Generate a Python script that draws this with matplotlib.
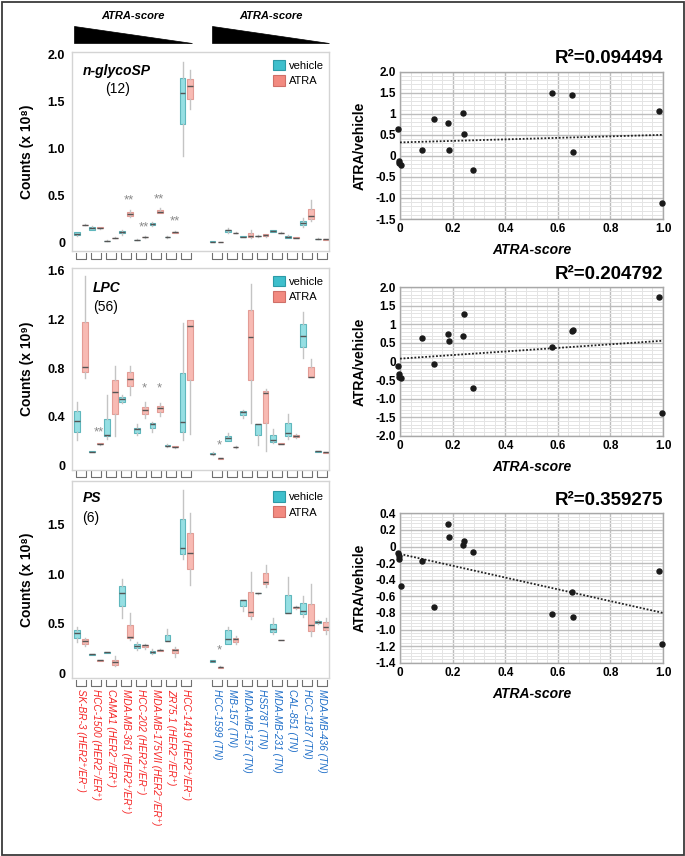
import matplotlib
matplotlib.use('Agg')
import matplotlib.pyplot as plt
import matplotlib.transforms as mtransforms
from matplotlib.patches import Polygon, Patch, Rectangle
import numpy as np

plt.rcParams['font.family'] = ['Liberation Sans', 'DejaVu Sans']

# ---------------- data ----------------
cell_lines = ['SK-BR-3 (HER2⁺/ER⁻)', 'HCC-1500 (HER2⁻/ER⁺)', 'CAMA1 (HER2⁻/ER⁺)',
              'MDA-MB-361 (HER2⁺/ER⁺)', 'HCC-202 (HER2⁺/ER⁻)', 'MDA-MB-175VII (HER2⁻/ER⁺)',
              'ZR75.1 (HER2⁻/ER⁺)', 'HCC-1419 (HER2⁺/ER⁻)',
              'HCC-1599 (TN)', 'MB-157 (TN)', 'MDA-MB-157 (TN)', 'HS578T (TN)',
              'MDA-MB-231 (TN)', 'CAL-851 (TN)', 'HCC-1187 (TN)', 'MDA-MB-436 (TN)']
cell_group = ['her2'] * 8 + ['tn'] * 8
slot_pos = [0, 1, 2, 3, 4, 5, 6, 7, 9, 10, 11, 12, 13, 14, 15, 16]

# box stats per cell line: (whisker low, q1, median, q3, whisker high)
glyco_vehicle = [(0.075, 0.08, 0.09, 0.11, 0.115), (0.13, 0.14, 0.155, 0.17, 0.18),
                 (0.015, 0.018, 0.02, 0.022, 0.025), (0.08, 0.10, 0.11, 0.12, 0.135),
                 (0.025, 0.028, 0.03, 0.032, 0.035), (0.18, 0.185, 0.195, 0.205, 0.215),
                 (0.055, 0.058, 0.06, 0.065, 0.07), (0.92, 1.26, 1.59, 1.75, 1.92),
                 (0.008, 0.01, 0.012, 0.014, 0.016), (0.10, 0.11, 0.135, 0.14, 0.16),
                 (0.06, 0.063, 0.065, 0.068, 0.07), (0.065, 0.068, 0.072, 0.075, 0.08),
                 (0.11, 0.115, 0.125, 0.135, 0.14), (0.05, 0.055, 0.065, 0.075, 0.08),
                 (0.17, 0.19, 0.21, 0.235, 0.26), (0.038, 0.04, 0.042, 0.044, 0.046)]
glyco_atra = [(0.185, 0.188, 0.19, 0.192, 0.195), (0.15, 0.155, 0.16, 0.165, 0.17),
              (0.045, 0.048, 0.05, 0.053, 0.056), (0.27, 0.28, 0.30, 0.33, 0.35),
              (0.055, 0.058, 0.06, 0.063, 0.066), (0.31, 0.32, 0.33, 0.35, 0.37),
              (0.10, 0.105, 0.11, 0.115, 0.12), (1.42, 1.53, 1.66, 1.74, 1.83),
              (0.003, 0.004, 0.005, 0.006, 0.007), (0.10, 0.102, 0.105, 0.108, 0.11),
              (0.055, 0.06, 0.07, 0.105, 0.14), (0.065, 0.07, 0.08, 0.09, 0.095),
              (0.10, 0.102, 0.105, 0.108, 0.11), (0.05, 0.052, 0.055, 0.058, 0.06),
              (0.23, 0.25, 0.28, 0.36, 0.45), (0.032, 0.034, 0.035, 0.037, 0.04)]

lpc_vehicle = [(0.21, 0.28, 0.37, 0.45, 0.52), (0.11, 0.112, 0.115, 0.118, 0.12),
               (0.22, 0.24, 0.25, 0.38, 0.58), (0.51, 0.525, 0.545, 0.565, 0.58),
               (0.25, 0.265, 0.30, 0.31, 0.34), (0.28, 0.31, 0.345, 0.35, 0.36),
               (0.155, 0.16, 0.165, 0.17, 0.18), (0.21, 0.28, 0.355, 0.76, 1.17),
               (0.09, 0.095, 0.10, 0.105, 0.11), (0.20, 0.205, 0.225, 0.24, 0.265),
               (0.39, 0.415, 0.44, 0.45, 0.46), (0.17, 0.25, 0.34, 0.34, 0.345),
               (0.19, 0.195, 0.21, 0.25, 0.30), (0.22, 0.245, 0.27, 0.35, 0.42),
               (0.88, 0.975, 1.065, 1.16, 1.255), (0.115, 0.116, 0.117, 0.119, 0.12)]
lpc_atra = [(0.72, 0.765, 0.805, 1.18, 1.55), (0.17, 0.175, 0.18, 0.185, 0.19),
            (0.245, 0.42, 0.60, 0.70, 0.82), (0.58, 0.65, 0.71, 0.765, 0.82),
            (0.39, 0.42, 0.455, 0.48, 0.52), (0.41, 0.44, 0.47, 0.49, 0.51),
            (0.145, 0.15, 0.155, 0.16, 0.165), (0.26, 0.70, 1.145, 1.19, 1.19),
            (0.055, 0.058, 0.06, 0.063, 0.065), (0.148, 0.15, 0.153, 0.156, 0.16),
            (0.35, 0.70, 1.05, 1.275, 1.49), (0.12, 0.35, 0.595, 0.61, 0.63),
            (0.175, 0.177, 0.18, 0.183, 0.185), (0.23, 0.235, 0.243, 0.255, 0.26),
            (0.73, 0.73, 0.73, 0.805, 0.875), (0.105, 0.107, 0.11, 0.112, 0.115)]

ps_vehicle = [(0.32, 0.36, 0.41, 0.44, 0.47), (0.185, 0.187, 0.19, 0.192, 0.195),
              (0.20, 0.205, 0.21, 0.215, 0.22), (0.56, 0.68, 0.815, 0.885, 0.95),
              (0.24, 0.26, 0.275, 0.30, 0.32), (0.195, 0.20, 0.21, 0.225, 0.25),
              (0.33, 0.33, 0.33, 0.39, 0.45), (1.16, 1.21, 1.27, 1.56, 1.85),
              (0.11, 0.115, 0.125, 0.13, 0.135), (0.30, 0.30, 0.35, 0.44, 0.47),
              (0.63, 0.68, 0.74, 0.74, 0.74), (0.805, 0.807, 0.81, 0.812, 0.815),
              (0.40, 0.42, 0.445, 0.50, 0.56), (0.605, 0.605, 0.605, 0.79, 0.97),
              (0.57, 0.60, 0.63, 0.71, 0.785), (0.50, 0.505, 0.52, 0.53, 0.535)]
ps_atra = [(0.28, 0.30, 0.33, 0.35, 0.36), (0.125, 0.127, 0.13, 0.133, 0.135),
           (0.07, 0.085, 0.11, 0.13, 0.17), (0.34, 0.355, 0.37, 0.49, 0.605),
           (0.25, 0.265, 0.283, 0.29, 0.30), (0.225, 0.23, 0.235, 0.24, 0.245),
           (0.16, 0.20, 0.235, 0.25, 0.27), (0.89, 1.055, 1.22, 1.42, 1.62),
           (0.05, 0.055, 0.06, 0.065, 0.07), (0.30, 0.32, 0.35, 0.36, 0.38),
           (0.545, 0.58, 0.615, 0.82, 1.02), (0.875, 0.90, 0.92, 1.01, 1.10),
           (0.333, 0.335, 0.337, 0.339, 0.341), (0.655, 0.66, 0.667, 0.675, 0.68),
           (0.38, 0.43, 0.485, 0.70, 0.90), (0.40, 0.44, 0.47, 0.52, 0.56)]

# significance marks: (slot index, y value, text)
glyco_sig = [(3, 0.39, '**'), (4, 0.10, '**'), (5, 0.40, '**'), (6, 0.16, '**')]
lpc_sig = [(1, 0.22, '**'), (4, 0.58, '*'), (5, 0.58, '*'), (8, 0.12, '*')]
ps_sig = [(8, 0.17, '*')]

panel_names = ['n-glycoSP', 'LPC', 'PS']
panel_counts = ['(12)', '(56)', '(6)']
panel_ylabels = ['Counts (x 10⁸)', 'Counts (x 10⁹)', 'Counts (x 10⁸)']
panel_yticks = [[0, 0.5, 1.0, 1.5, 2.0], [0, 0.4, 0.8, 1.2, 1.6], [0, 0.5, 1.0, 1.5]]
panel_yticklabels = [['0', '0.5', '1.0', '1.5', '2.0'], ['0', '0.4', '0.8', '1.2', '1.6'],
                     ['0', '0.5', '1.0', '1.5']]

# scatter: ATRA-score vs ATRA/vehicle
atra_score = [-0.006, -0.003, -0.002, 0.002, 0.085, 0.128, 0.182, 0.186,
              0.238, 0.242, 0.278, 0.577, 0.655, 0.657, 0.985, 0.997]
glyco_ratio = [0.63, -0.12, -0.17, -0.22, 0.15, 0.87, 0.77, 0.13,
               1.02, 0.51, -0.34, 1.50, 1.44, 0.10, 1.06, -1.12]
lpc_ratio = [-0.12, -0.34, -0.41, -0.45, 0.62, -0.08, 0.74, 0.55,
             0.70, 1.27, -0.71, 0.40, 0.83, 0.85, 1.73, -1.39]
ps_ratio = [-0.074, -0.11, -0.15, -0.48, -0.175, -0.73, 0.275, 0.11,
            0.02, 0.065, -0.067, -0.81, -0.55, -0.845, -0.30, -1.17]
fit_intercept = [0.32, 0.077, -0.09]
fit_slope = [0.18, 0.483, -0.71]
r2_labels = ['R²=0.094494', 'R²=0.204792', 'R²=0.359275']
scatter_yticks = [[-1.5, -1.0, -0.5, 0, 0.5, 1, 1.5, 2.0],
                  [-2.0, -1.5, -1.0, -0.5, 0, 0.5, 1, 1.5, 2.0],
                  [-1.4, -1.2, -1.0, -0.8, -0.6, -0.4, -0.2, 0, 0.2, 0.4]]
scatter_yticklabels = [['-1.5', '-1.0', '-0.5', '0', '0.5', '1', '1.5', '2.0'],
                       ['-2.0', '-1.5', '-1.0', '-0.5', '0', '0.5', '1', '1.5', '2.0'],
                       ['-1.4', '-1.2', '-1.0', '-0.8', '-0.6', '-0.4', '-0.2', '0', '0.2', '0.4']]
scatter_ylims = [(-1.5, 2.0), (-2.0, 2.0), (-1.4, 0.4)]
scatter_yminor = [0.1, 0.1, 0.04]
score_ticks = [0, 0.2, 0.4, 0.6, 0.8, 1.0]
score_ticklabels = ['0', '0.2', '0.4', '0.6', '0.8', '1.0']

# ---------------- figure ----------------
W, H = 685, 856
fig = plt.figure(figsize=(W / 100, H / 100), dpi=100)


def rect(l, t, r, b):
    return [l / W, 1 - b / H, (r - l) / W, (b - t) / H]


VEH_FACE, VEH_EDGE = '#95dfe3', '#5fb7bd'
ATR_FACE, ATR_EDGE = '#f8bab3', '#e39c95'
LEG_VEH, LEG_ATR = '#3ebfcc', '#f28a80'
RED, BLUE = '#f52525', '#1e6ec8'

left_rects = [rect(72, 52, 329, 251), rect(72, 268, 329, 469.5), rect(72, 481, 329, 678)]
left_ylims = [(-0.088, 2.024), (-0.031, 1.619), (-0.048, 1.945)]
vehicle_sets = [glyco_vehicle, lpc_vehicle, ps_vehicle]
atra_sets = [glyco_atra, lpc_atra, ps_atra]
sig_sets = [glyco_sig, lpc_sig, ps_sig]
title_pos = [((0.043, 0.905), (0.177, 0.812)), ((0.08, 0.90), (0.131, 0.804)),
             ((0.042, 0.912), (0.074, 0.81))]
legend_y = [0.962, 0.962, 0.95]


def stats_from(rows):
    return [dict(whislo=r[0], q1=r[1], med=r[2], q3=r[3], whishi=r[4], fliers=[]) for r in rows]


off, bw = 0.26, 0.38
for i in range(3):
    ax = fig.add_axes(left_rects[i])
    pos = np.array(slot_pos, dtype=float)
    for data, face, edge, sgn in [(vehicle_sets[i], VEH_FACE, VEH_EDGE, -1),
                                  (atra_sets[i], ATR_FACE, ATR_EDGE, 1)]:
        ax.bxp(stats_from(data), positions=pos + sgn * off, widths=bw,
               patch_artist=True, showcaps=False, showfliers=False, manage_ticks=False,
               boxprops=dict(facecolor=face, edgecolor=edge, linewidth=0.8),
               medianprops=dict(color='#555555', linewidth=1.0),
               whiskerprops=dict(color='#c4c4c4', linewidth=1.0))
    for (k, yv, txt) in sig_sets[i]:
        ax.text(slot_pos[k] + 0.2, yv, txt, ha='center', va='bottom', fontsize=9.5,
                color='#8a8a8a')
    ax.set_xlim(-0.6, 16.47)
    ax.set_ylim(*left_ylims[i])
    ax.set_yticks(panel_yticks[i])
    ax.set_yticklabels(panel_yticklabels[i], fontsize=9, fontweight='bold')
    ax.set_xticks([])
    ax.tick_params(axis='y', length=0, pad=5)
    for s in ax.spines.values():
        s.set_color('#d4d4d4')
        s.set_linewidth(1.0)
    ax.text(-0.175, 0.5, panel_ylabels[i], transform=ax.transAxes, rotation=90,
            ha='center', va='center', fontsize=10, fontweight='bold')
    (tx, ty), (cx, cy) = title_pos[i]
    ax.text(tx, ty, panel_names[i], transform=ax.transAxes, ha='left', va='center',
            fontsize=10, fontweight='bold', fontstyle='italic')
    ax.text(cx, cy, panel_counts[i], transform=ax.transAxes, ha='center', va='center',
            fontsize=10)
    handles = [Patch(facecolor=LEG_VEH, edgecolor='#2c9aa6', linewidth=0.8),
               Patch(facecolor=LEG_ATR, edgecolor='#cf6f68', linewidth=0.8)]
    ax.legend(handles, ['vehicle', 'ATRA'], loc='upper left',
              bbox_to_anchor=(0.781, legend_y[i]), frameon=False, borderpad=0,
              borderaxespad=0, handlelength=1.1, handleheight=1.1, handletextpad=0.4,
              labelspacing=0.4, fontsize=8)
    # small square markers below each slot
    trans = mtransforms.blended_transform_factory(ax.transData, ax.transAxes)
    hpx = (left_rects[i][3]) * H
    y1 = -1.5 / hpx
    y2 = -7.5 / hpx
    for p in slot_pos:
        ax.plot([p - 0.33, p - 0.33, p + 0.33, p + 0.33], [y1, y2, y2, y1],
                transform=trans, clip_on=False, color='#707070', lw=0.8)
    if i == 2:
        ylab = -11.0 / hpx
        for p, name, g in zip(slot_pos, cell_lines, cell_group):
            ax.text(p, ylab, name, transform=trans, rotation=-90, ha='center', va='top',
                    fontsize=7.2, fontstyle='italic',
                    color=RED if g == 'her2' else BLUE)

# ATRA-score header with wedges
for x0, x1 in [(74, 192), (212, 329)]:
    fig.add_artist(Polygon([(x0 / W, 1 - 26 / H), (x0 / W, 1 - 42.5 / H), (x1 / W, 1 - 42.5 / H)],
                           closed=True, transform=fig.transFigure, facecolor='black',
                           edgecolor='black', lw=0.5))
    fig.text((x0 + x1) / 2 / W, 1 - 16 / H, 'ATRA-score', ha='center', va='center',
             fontsize=8, fontweight='bold', fontstyle='italic')

# scatter panels
right_rects = [rect(400, 71.7, 663, 219), rect(400, 287.3, 663, 435.7),
               rect(400, 513.3, 663, 662.7)]
ratio_sets = [glyco_ratio, lpc_ratio, ps_ratio]
for i in range(3):
    ax = fig.add_axes(right_rects[i])
    ax.set_xlim(0, 1)
    ax.set_ylim(*scatter_ylims[i])
    ax.set_xticks(score_ticks)
    ax.set_xticklabels(score_ticklabels, fontsize=8.5, fontweight='bold')
    ax.set_yticks(scatter_yticks[i])
    ax.set_yticklabels(scatter_yticklabels[i], fontsize=8.5, fontweight='bold')
    ax.set_xticks(np.arange(0, 1.0001, 0.04), minor=True)
    lo, hi = scatter_ylims[i]
    ax.set_yticks(np.arange(lo, hi + 1e-9, scatter_yminor[i]), minor=True)
    ax.grid(which='minor', color='#e4e4e4', linewidth=0.7)
    ax.grid(which='major', color='#bdbdbd', linewidth=1.0)
    ax.set_axisbelow(True)
    ax.tick_params(which='both', length=0, pad=3)
    for s in ax.spines.values():
        s.set_color('#a8a8a8')
        s.set_linewidth(1.0)
    ax.plot(atra_score, ratio_sets[i], 'o', color='#1a1a1a', markersize=3.6,
            clip_on=False, zorder=5)
    xf = np.array([0.0, 1.0])
    ax.plot(xf, fit_intercept[i] + fit_slope[i] * xf, color='#222222', lw=1.3,
            linestyle=(0, (1, 1)), zorder=4)
    hpx = right_rects[i][3] * H
    ax.text(1.0, 1.0 + 8.5 / hpx, r2_labels[i], transform=ax.transAxes, ha='right',
            va='baseline', fontsize=13.5, fontweight='bold')
    ax.text(-40 / 263, 0.5, 'ATRA/vehicle', transform=ax.transAxes, rotation=90,
            ha='center', va='center', fontsize=10, fontweight='bold')
    ax.text(0.5, -31 / hpx, 'ATRA-score', transform=ax.transAxes, ha='center',
            va='center', fontsize=10, fontweight='bold', fontstyle='italic')

# outer frame
fig.add_artist(Rectangle((1.5 / W, 1.5 / H), (W - 3) / W, (H - 3) / H,
                         transform=fig.transFigure, fill=False, edgecolor='#3a3a3a', lw=1.3))

fig.savefig('out.png', dpi=100)
